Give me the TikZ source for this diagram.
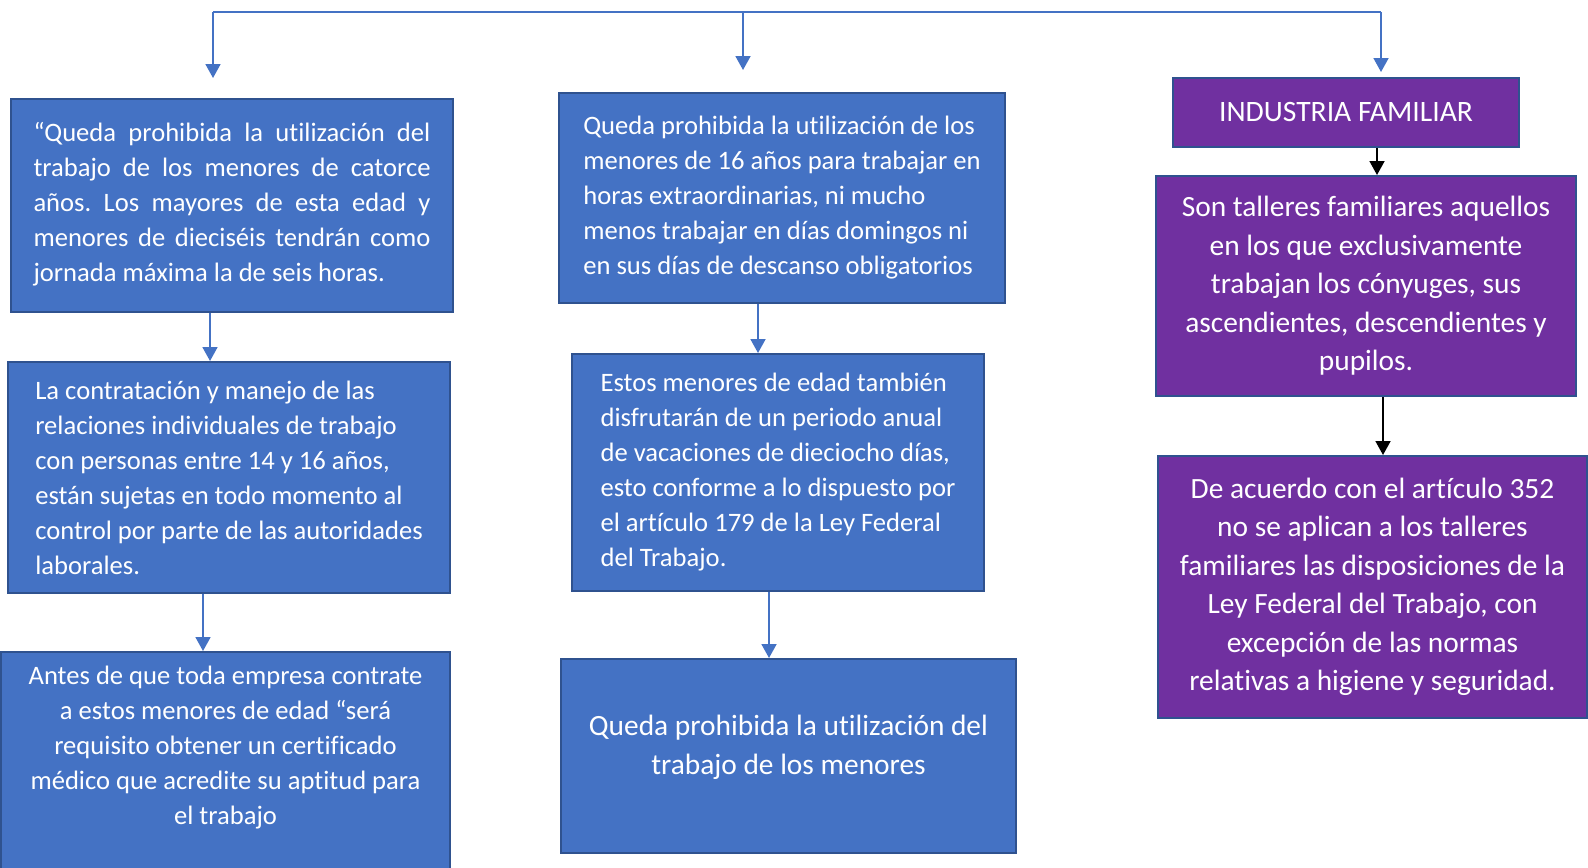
\documentclass[tikz,border=0pt]{standalone}
\usepackage{fontspec}
\setmainfont{Carlito}[Ligatures=NoCommon]
\usetikzlibrary{arrows.meta}
\frenchspacing
\definecolor{azulof}{HTML}{4472C4}
\definecolor{bordeaz}{HTML}{2F528F}
\definecolor{moradof}{HTML}{7030A0}
\tikzstyle{azul} = [draw=bordeaz, line width=1pt, fill=azulof, text=white, inner xsep=0pt, inner ysep=0pt]
\tikzstyle{morado} = [azul, fill=moradof]
\tikzstyle{flecha} = [->, azulof, line width=0.9pt]
\tikzstyle{flechan} = [->, black, line width=0.9pt]
\newcommand{\renglon}[1]{\makebox[198.5pt][s]{#1}}
\newcommand{\letra}{\fontsize{13.3}{17.5}\selectfont}
\newcommand{\letrag}{\fontsize{14.7}{19.25}\selectfont}

\begin{document}
\begin{tikzpicture}[x=0.5pt, y=-0.5pt, >={Triangle[width=7.5pt,length=7pt]}]
  \useasboundingbox (0,0) rectangle (1588,867);
  \clip (0,0) rectangle (1588,867);

  %linea de arriba
  \coordinate (izq) at (213,12);
  \coordinate (der) at (1381,12);
  \coordinate (p1) at (213,78);
  \coordinate (p2) at (743,70);
  \coordinate (p3) at (1381,72);
  \draw[flecha, -] (izq) -- (der);
  \foreach \n in {1,2,3}
    \draw[flecha] (p\n |- izq) -- (p\n);

  %primera columna
  \node[azul, minimum width=221pt, minimum height=106.5pt, align=left, font=\letra] at (232,205.5) (catorce)
    {\renglon{“Queda prohibida la utilización del}\\
     \renglon{trabajo de los menores de catorce}\\
     \renglon{años. Los mayores de esta edad y}\\
     \renglon{menores de dieciséis tendrán como}\\
     jornada máxima la de seis horas.\\[-13.5pt]};
  \node[azul, minimum width=221pt, minimum height=115.5pt, align=left, font=\letra] at (229,477.5) (contrato)
    {La contratación y manejo de las\\
     relaciones individuales de trabajo\\
     con personas entre 14 y 16 años,\\
     están sujetas en todo momento al\\
     control por parte de las autoridades\\
     laborales.};
  \node[azul, minimum width=224.5pt, inner ysep=7pt, text depth=120pt, anchor=north, align=center, font=\letra] at (225.5,651) (certif)
    {Antes de que toda empresa contrate\\
     a estos menores de edad “será\\
     requisito obtener un certificado\\
     médico que acredite su aptitud para\\
     el trabajo};
  \draw[flecha] (catorce.south -| 210,0) -- (contrato.north -| 210,0);
  \draw[flecha] (contrato.south -| 203,0) -- (certif.north -| 203,0);

  %segunda columna
  \node[azul, minimum width=223pt, minimum height=105pt, align=left, font=\letra] at (782,198) (dieciseis)
    {Queda prohibida la utilización de los\\
     menores de 16 años para trabajar en\\
     horas extraordinarias, ni mucho\\
     menos trabajar en días domingos ni\\
     en sus días de descanso obligatorios\\[-14.5pt]};
  \node[azul, minimum width=206pt, minimum height=118.5pt, align=left, font=\letra] at (778,472.5) (vacac)
    {Estos menores de edad también\\
     disfrutarán de un periodo anual\\
     de vacaciones de dieciocho días,\\
     esto conforme a lo dispuesto por\\
     el artículo 179 de la Ley Federal\\
     del Trabajo.};
  \node[azul, minimum width=227.5pt, minimum height=97pt, align=center, font=\letrag] at (788.5,756) (prohib)
    {Queda prohibida la utilización del\\
     trabajo de los menores\\[-8pt]};
  \draw[flecha] (dieciseis.south -| 758,0) -- (vacac.north -| 758,0);
  \draw[flecha] (vacac.south -| 769,0) -- (prohib.north -| 769,0);

  %industria familiar
  \node[morado, minimum width=173pt, minimum height=34.5pt, font=\fontsize{14.8}{17.5}\selectfont] at (1346,112.5) (indus) {INDUSTRIA FAMILIAR};
  \node[morado, minimum width=210pt, minimum height=110pt, align=center, font=\letrag] at (1366,286) (talleres)
    {Son talleres familiares aquellos\\
     en los que exclusivamente\\
     trabajan los cónyuges, sus\\
     ascendientes, descendientes y\\
     pupilos.};
  \node[morado, minimum width=214.5pt, minimum height=131pt, align=center, font=\letrag] at (1372.5,587) (art352)
    {De acuerdo con el artículo 352\\
     no se aplican a los talleres\\
     familiares las disposiciones de la\\
     Ley Federal del Trabajo, con\\
     excepción de las normas\\
     relativas a higiene y seguridad.};
  \draw[flechan] (indus.south -| 1377,0) -- (talleres.north -| 1377,0);
  \draw[flechan] (talleres.south -| 1383,0) -- (art352.north -| 1383,0);

\end{tikzpicture}
\end{document}
